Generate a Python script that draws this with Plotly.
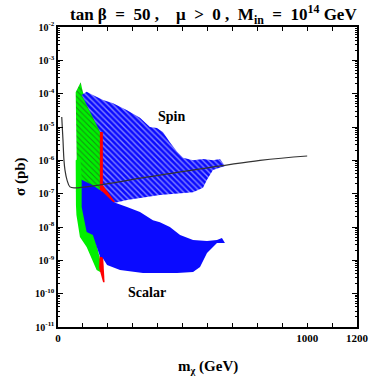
import numpy as np
import plotly.graph_objects as go

# sensitivity curve (m in GeV, sigma in pb)
limit_m = [15, 20, 24, 28, 36, 48, 68, 409, 811, 1000]
limit_sigma = [2.0e-5, 4.1e-6, 1.0e-6, 5.1e-7, 2.6e-7, 1.6e-7, 1.5e-7, 3.6e-7, 1.0e-6, 1.35e-6]

# spin-dependent regions (hatched)
spin_green_m = [71, 91, 100, 169, 173, 72, 75]
spin_green_sigma = [1.1e-4, 2.2e-4, 1.1e-4, 8.1e-6, 1.1e-7, 1.1e-7, 1.0e-6]

spin_blue_m = [95, 115, 140, 181, 221, 277, 329, 369, 397, 421, 449, 478, 502, 542, 582, 622, 650, 662, 670,
               622, 598, 582, 542, 409, 277, 221, 177, 169]
spin_blue_sigma = [9.1e-5, 1.15e-4, 9.1e-5, 6.5e-5, 5.2e-5, 3.2e-5, 1.9e-5, 1.0e-5, 9.3e-6, 7.1e-6, 3.5e-6,
                   1.8e-6, 1.2e-6, 1.0e-6, 1.1e-6, 1.0e-6, 1.1e-6, 8.3e-7, 6.8e-7,
                   5.1e-7, 2.6e-7, 1.5e-7, 1.1e-7, 9.1e-8, 6.5e-8, 5.2e-8, 1.6e-7, 7.1e-6]

spin_red_m = [168, 180, 180, 229, 217, 168]
spin_red_sigma = [7.1e-6, 7.1e-6, 1.8e-7, 5.6e-8, 5.2e-8, 1.3e-7]

# spin-independent regions (solid)
scalar_green_m = [71, 90, 96, 169, 181, 169, 155, 115, 88, 74, 72]
scalar_green_sigma = [1.0e-6, 1.2e-6, 2.1e-7, 1.26e-9, 4.5e-10, 4.5e-10, 5.1e-10, 2.5e-9, 5.0e-9, 2.3e-8, 4.6e-8]

scalar_red_m = [167, 181, 187, 181, 165]
scalar_red_sigma = [1.35e-9, 1.35e-9, 2.2e-10, 2.2e-10, 5.9e-10]

scalar_blue_m = [95, 140, 181, 221, 277, 329, 381, 409, 449, 490, 542, 598, 638, 658, 670,
                 638, 598, 570, 542, 478, 341, 249, 197, 177, 169, 140, 115, 95]
scalar_blue_sigma = [2.6e-7, 1.8e-7, 1.1e-7, 5.6e-8, 4.0e-8, 2.8e-8, 1.6e-8, 1.4e-8, 1.0e-8, 5.8e-9,
                     4.1e-9, 3.8e-9, 4.1e-9, 4.7e-9, 3.3e-9,
                     3.3e-9, 1.66e-9, 6.3e-10, 4.5e-10, 4.2e-10, 4.2e-10, 5.1e-10, 7.2e-10, 1.26e-9,
                     1.26e-9, 5.8e-9, 7.1e-9, 4.0e-8]

x_tickvals = [0, 1000, 1200]
x_minor_vals = [100, 200, 300, 400, 500, 600, 700, 800, 900, 1100]
y_exponents = list(range(-11, -1))

SERIF = "Liberation Serif"
BLUE = "#0a0aff"
GREEN = "#00f000"
RED = "#ff0000"
EN = "\u2002"  # wider spaces, as in the original heading

fig = go.Figure()


def region(m, s, color, pattern=None):
    kw = dict(x=m, y=s, mode="lines", fill="toself", line=dict(width=0, color=color),
              fillcolor=color, hoverinfo="skip", showlegend=False)
    if pattern:
        kw["fillpattern"] = pattern
    fig.add_trace(go.Scatter(**kw))


region(spin_green_m, spin_green_sigma, GREEN,
       dict(shape="\\", bgcolor=GREEN, fgcolor="#2a2a2a", size=4, solidity=0.25))
region(spin_blue_m, spin_blue_sigma, BLUE,
       dict(shape="\\", bgcolor=BLUE, fgcolor="white", size=4, solidity=0.35))
region(spin_red_m, spin_red_sigma, RED)
region(scalar_green_m, scalar_green_sigma, GREEN)
region(scalar_red_m, scalar_red_sigma, RED)
region(scalar_blue_m, scalar_blue_sigma, BLUE)

fig.add_trace(go.Scatter(x=limit_m, y=limit_sigma, mode="lines",
                         line=dict(color="#333333", width=1.2), line_shape="spline",
                         hoverinfo="skip", showlegend=False))

minor_vals = [k * 10.0 ** e for e in range(-11, -2) for k in range(2, 10)]
bold = dict(family=SERIF, color="black", weight="bold")

title = (f"tan β{EN}={EN}50 ,{EN}{EN}μ{EN}>{EN}0 ,{EN}M<sub>in</sub>{EN}={EN}"
         f"10<sup>14</sup> GeV")

fig.update_layout(
    width=370, height=382,
    margin=dict(l=58, r=13, t=27, b=55),
    paper_bgcolor="white", plot_bgcolor="white",
    font=dict(family=SERIF, color="black"),
    xaxis=dict(
        range=[0, 1200], tickvals=x_tickvals, automargin=False,
        ticks="inside", ticklen=4, tickwidth=1, tickcolor="black",
        minor=dict(tickvals=x_minor_vals, ticks="inside", ticklen=4, tickcolor="black"),
        showline=True, linewidth=1.5, linecolor="black", mirror="ticks",
        showgrid=False, zeroline=False,
        tickfont=dict(size=11, **bold),
    ),
    yaxis=dict(
        type="log", range=[-11, -2], automargin=False,
        tickvals=[10.0 ** e for e in y_exponents],
        ticktext=[f"10<sup>{e}</sup>" for e in y_exponents],
        ticks="inside", ticklen=5, tickwidth=1, tickcolor="black",
        minor=dict(tickvals=minor_vals, ticks="inside", ticklen=2.5, tickcolor="black"),
        showline=True, linewidth=1.5, linecolor="black", mirror="ticks",
        showgrid=False, zeroline=False,
        tickfont=dict(size=10, **bold),
    ),
    annotations=[
        dict(x=1.007, y=1.0, xref="paper", yref="paper", xanchor="right", yanchor="bottom",
             yshift=-2, showarrow=False, text=title,
             font=dict(size=17, **bold)),
        dict(x=-0.127, y=0.5, xref="paper", yref="paper", xanchor="center", yanchor="middle",
             textangle=-90, showarrow=False,
             text="σ (pb)", font=dict(size=15, **bold)),
        dict(x=0.5, y=-0.133, xref="paper", yref="paper", xanchor="center", yanchor="middle",
             showarrow=False,
             text="m<sub>χ</sub> (GeV)", font=dict(size=15, **bold)),
        dict(x=457, y=np.log10(2.0e-5), xref="x", yref="y", showarrow=False, text="Spin",
             font=dict(size=14, **bold)),
        dict(x=357, y=np.log10(1.05e-10), xref="x", yref="y", showarrow=False, text="Scalar",
             font=dict(size=14, **bold)),
    ],
)

# drop the default page margin so the figure fills the window exactly
fig.write_html("out.html", config={"displayModeBar": False},
               post_script="document.body.style.margin = '0';")
